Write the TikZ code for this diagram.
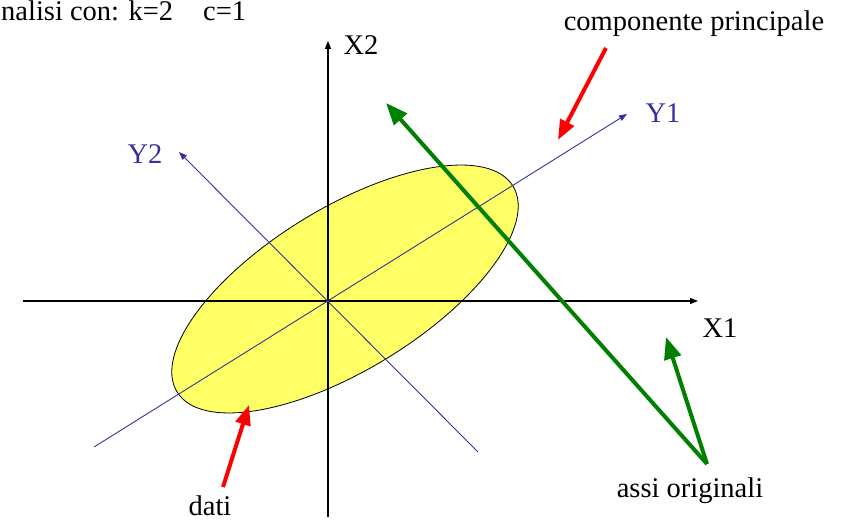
\documentclass[tikz,border=0pt]{standalone}
\usepackage{fontspec}
\setmainfont{Liberation Serif}
\usetikzlibrary{arrows.meta,positioning}
\definecolor{axisblue}{RGB}{51,51,153}
\definecolor{datayellow}{RGB}{255,255,102}
\definecolor{origgreen}{RGB}{0,128,0}
\definecolor{pointred}{RGB}{255,0,0}
\tikzset{
  lbl/.style={font=\fontsize{28.5}{32}\selectfont, inner sep=0pt},
  oldaxis/.style={draw=black, line width=1.3pt, -{Triangle[length=8pt,width=6pt]}},
  newaxis/.style={draw=axisblue, line width=0.9pt, -{Triangle[length=8pt,width=6pt]}},
  greenarrow/.style={draw=origgreen, line width=4pt, -{Triangle[length=22pt,width=17pt]}},
  redarrow/.style={draw=pointred, line width=4pt, -{Triangle[length=20pt,width=15pt]}}
}

\begin{document}
\begin{tikzpicture}[x=1pt, y=-1pt]
  \useasboundingbox (0,0) rectangle (847,521);
  % data cloud
  \draw[fill=datayellow, line width=0.8pt, rotate around={31.5:(345,289)}]
    (345,289) ellipse [x radius=197, y radius=81];
  % end points of the axes
  \coordinate (o) at (328,301);
  \coordinate (x1l) at (23,301);
  \coordinate (x1r) at (698,301);
  \coordinate (x2b) at (328,517);
  \coordinate (x2t) at (328,41);
  \coordinate (y1l) at (94,447);
  \coordinate (y1r) at (627,114);
  \coordinate (y2b) at (478,452);
  \coordinate (y2t) at (179,152);
  % original axes
  \draw[oldaxis] (x1l) -- (x1r);
  \draw[oldaxis] (x2b) -- (x2t);
  % principal axes
  \draw[newaxis] (y1l) -- (y1r);
  \draw[newaxis] (y2b) -- (y2t);
  % labels
  \node[lbl, anchor=base west] (title) at (1,21) {nalisi con: k=2\hspace{30pt}c=1};
  \node[lbl] (x1lab) at (720,328) {X1};
  \node[lbl] (x2lab) at (361,45) {X2};
  \node[lbl, text=axisblue] (y1lab) at (663,113) {Y1};
  \node[lbl, text=axisblue] (y2lab) at (145,154) {Y2};
  \node[lbl, anchor=base] (comp) at (694,31) {componente principale};
  \node[lbl, anchor=base] (assi) at (690,497) {assi originali};
  \node[lbl, anchor=base] (dati) at (210,515) {dati};
  % pointers
  \coordinate (gfoot) at (707,464);
  \coordinate (gtip1) at (386,103);
  \coordinate (gtip2) at (666,337);
  \draw[greenarrow] (gfoot) -- (gtip1);
  \draw[greenarrow] (gfoot) -- (gtip2);
  \coordinate (r1s) at (606,48);
  \coordinate (r1e) at (558,140);
  \coordinate (r2s) at (223,487);
  \coordinate (r2e) at (249,405);
  \draw[redarrow] (r1s) -- (r1e);
  \draw[redarrow] (r2s) -- (r2e);
\end{tikzpicture}
\end{document}
